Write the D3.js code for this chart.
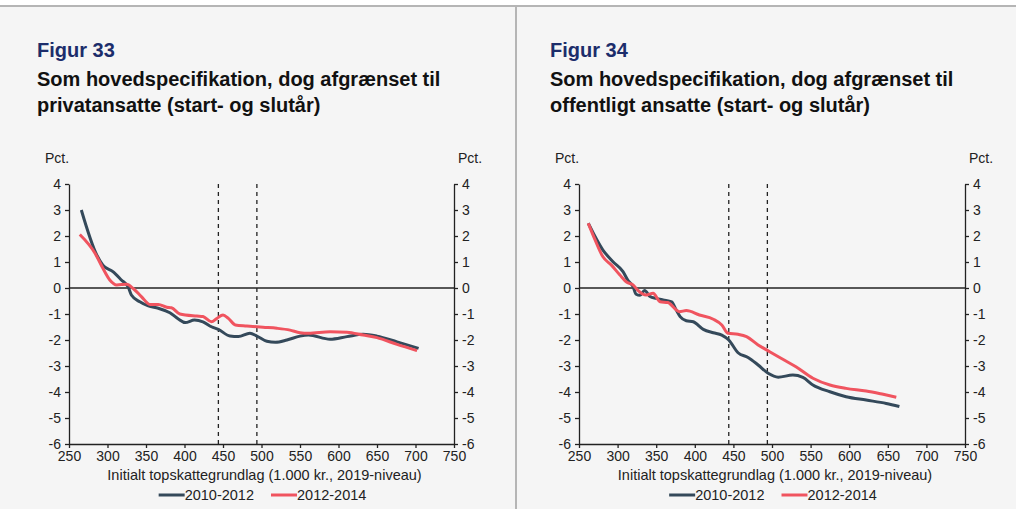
<!DOCTYPE html>
<html>
<head>
<meta charset="utf-8">
<script src="https://cdn.jsdelivr.net/npm/d3@7"></script>
<style>
  html, body { margin: 0; padding: 0; background: #ffffff; }
  svg { display: block; }
  text { font-family: "Liberation Sans", Arial, sans-serif; }
</style>
</head>
<body>
<svg id="chart" width="1016" height="509"></svg>
<script>
// ---------- DATA ----------
const xTicks = [250, 300, 350, 400, 450, 500, 550, 600, 650, 700, 750];
const yTicks = [4, 3, 2, 1, 0, -1, -2, -3, -4, -5, -6];
const seriesNames = ["2010-2012", "2012-2014"];
const dashedLines = [444, 494];

// Figur 33 – privatansatte
const priv2010x = [266, 286, 294, 307, 318, 327, 331, 342, 353, 366, 381, 392, 401, 413, 424, 435, 444, 459, 470, 485, 494, 507, 518, 533, 550, 561, 589, 611, 632, 650, 676, 704];
const priv2010y = [3.0, 1.27, 0.88, 0.63, 0.31, 0.03, -0.27, -0.53, -0.69, -0.78, -0.95, -1.19, -1.33, -1.23, -1.3, -1.49, -1.59, -1.85, -1.87, -1.74, -1.85, -2.05, -2.09, -2.0, -1.85, -1.81, -1.97, -1.87, -1.78, -1.85, -2.07, -2.32];
const priv2012x = [264, 284, 294, 303, 312, 325, 333, 344, 355, 366, 377, 383, 394, 416, 424, 435, 442, 450, 457, 466, 481, 502, 520, 537, 550, 561, 589, 611, 632, 650, 676, 702];
const priv2012y = [2.06, 1.33, 0.76, 0.31, 0.12, 0.14, -0.01, -0.33, -0.63, -0.63, -0.74, -0.76, -1.0, -1.08, -1.1, -1.3, -1.17, -1.04, -1.17, -1.42, -1.46, -1.51, -1.55, -1.62, -1.72, -1.74, -1.68, -1.7, -1.81, -1.91, -2.17, -2.41];

// Figur 34 – offentligt ansatte
const off2010x = [262, 281, 294, 307, 313, 320, 324, 329, 335, 342, 350, 359, 370, 376, 381, 389, 398, 411, 424, 435, 444, 456, 469, 482, 495, 508, 527, 540, 553, 575, 596, 622, 648, 665];
const off2010y = [2.49, 1.46, 1.01, 0.63, 0.31, 0.05, -0.24, -0.28, -0.1, -0.33, -0.4, -0.46, -0.53, -0.85, -1.1, -1.26, -1.3, -1.59, -1.72, -1.81, -2.0, -2.49, -2.67, -2.96, -3.28, -3.43, -3.35, -3.44, -3.73, -3.99, -4.18, -4.31, -4.44, -4.56];
const off2012x = [262, 270, 281, 292, 303, 312, 320, 326, 337, 346, 355, 365, 380, 389, 406, 424, 435, 443, 456, 467, 482, 497, 514, 531, 553, 575, 596, 622, 644, 661];
const off2012y = [2.49, 1.91, 1.2, 0.88, 0.5, 0.22, 0.12, -0.08, -0.27, -0.2, -0.53, -0.56, -0.91, -0.87, -1.04, -1.2, -1.42, -1.74, -1.78, -1.87, -2.19, -2.45, -2.74, -3.03, -3.47, -3.73, -3.86, -3.96, -4.09, -4.2];

const panels = [
  { fig: "Figur 33", title: ["Som hovedspecifikation, dog afgrænset til", "privatansatte (start- og slutår)"],
    s: [[priv2010x, priv2010y], [priv2012x, priv2012y]] },
  { fig: "Figur 34", title: ["Som hovedspecifikation, dog afgrænset til", "offentligt ansatte (start- og slutår)"],
    s: [[off2010x, off2010y], [off2012x, off2012y]] }
];
const xTitle = "Initialt topskattegrundlag (1.000 kr., 2019-niveau)";
const unit = "Pct.";

// ---------- STYLE ----------
const colors = ["#34495a", "#f0545f"];
const navy = "#1c2d6b";
const svg = d3.select("#chart");

svg.append("rect").attr("x", 0).attr("y", 6).attr("width", 1016).attr("height", 503).attr("fill", "#f5f5f5");
svg.append("rect").attr("x", 0).attr("y", 5).attr("width", 1016).attr("height", 2).attr("fill", "#b5b5b5");
svg.append("rect").attr("x", 515).attr("y", 5).attr("width", 2).attr("height", 504).attr("fill", "#b5b5b5");

const layouts = [{ ox: 0, left: 69, right: 454 }, { ox: 513, left: 579, right: 965 }];
const plotTop = 184, plotBottom = 444;

panels.forEach((p, i) => {
  const L = layouts[i];
  const g = svg.append("g");
  const tx = L.ox + 37;
  g.append("text").attr("x", tx).attr("y", 57).attr("fill", navy)
    .attr("font-size", 20).attr("font-weight", "bold").text(p.fig);
  p.title.forEach((t, k) => {
    g.append("text").attr("x", tx).attr("y", 86 + k * 26).attr("fill", "#111")
      .attr("font-size", 20).attr("font-weight", "bold").text(t);
  });

  const x = d3.scaleLinear().domain([250, 750]).range([L.left, L.right]);
  const y = d3.scaleLinear().domain([-6, 4]).range([plotBottom, plotTop]);

  g.append("text").attr("x", L.left - 24).attr("y", 163).attr("font-size", 14).attr("fill", "#222").text(unit);
  g.append("text").attr("x", L.right + 4).attr("y", 163).attr("font-size", 14).attr("fill", "#222").text(unit);

  // zero line
  g.append("line").attr("x1", L.left).attr("x2", L.right).attr("y1", y(0)).attr("y2", y(0))
    .attr("stroke", "#222").attr("stroke-width", 1.3);

  // dashed lines
  dashedLines.forEach(v => {
    g.append("line").attr("x1", x(v)).attr("x2", x(v)).attr("y1", plotTop).attr("y2", plotBottom)
      .attr("stroke", "#222").attr("stroke-width", 1.3).attr("stroke-dasharray", "4,4");
  });

  // axes
  const fmt = d => String(d);
  const yl = g.append("g").attr("transform", `translate(${L.left},0)`)
    .call(d3.axisLeft(y).tickValues(yTicks).tickSize(4).tickSizeOuter(0).tickPadding(4).tickFormat(fmt));
  const yr = g.append("g").attr("transform", `translate(${L.right},0)`)
    .call(d3.axisRight(y).tickValues(yTicks).tickSize(4).tickSizeOuter(0).tickPadding(4).tickFormat(fmt));
  const xa = g.append("g").attr("transform", `translate(0,${plotBottom})`)
    .call(d3.axisBottom(x).tickValues(xTicks).tickSize(4).tickSizeOuter(0).tickPadding(3).tickFormat(fmt));
  [yl, yr, xa].forEach(a => {
    a.select(".domain").attr("stroke", "#222").attr("stroke-width", 1.3);
    a.selectAll(".tick line").attr("stroke", "#222").attr("stroke-width", 1.3);
    a.selectAll(".tick text").attr("font-size", 14).attr("fill", "#222")
      .attr("font-family", "Liberation Sans, Arial, sans-serif");
  });

  // series
  const line = d3.line().x(d => x(d[0])).y(d => y(d[1])).curve(d3.curveMonotoneX);
  p.s.forEach((s, k) => {
    const pts = s[0].map((v, j) => [v, s[1][j]]);
    g.append("path").datum(pts).attr("d", line).attr("fill", "none")
      .attr("stroke", colors[k]).attr("stroke-width", 3).attr("stroke-linejoin", "round");
  });

  // axis title
  const cx = (L.left + L.right) / 2;
  g.append("text").attr("x", cx + 3).attr("y", 480).attr("text-anchor", "middle")
    .attr("font-size", 14.5).attr("fill", "#222").text(xTitle);

  // legend
  const lg = g.append("g");
  let lx = 0;
  seriesNames.forEach((n, k) => {
    const it = lg.append("g").attr("transform", `translate(${lx},0)`);
    it.append("line").attr("x1", 0).attr("x2", 26).attr("y1", 0).attr("y2", 0)
      .attr("stroke", colors[k]).attr("stroke-width", 3);
    const t = it.append("text").attr("x", 26).attr("y", 5).attr("font-size", 14.5).attr("fill", "#222").text(n);
    const w = t.node().getComputedTextLength();
    lx += 26 + w + 17;
  });
  const totalW = lx - 17;
  lg.attr("transform", `translate(${cx + 1 - totalW / 2},495)`);
});
</script>
</body>
</html>
